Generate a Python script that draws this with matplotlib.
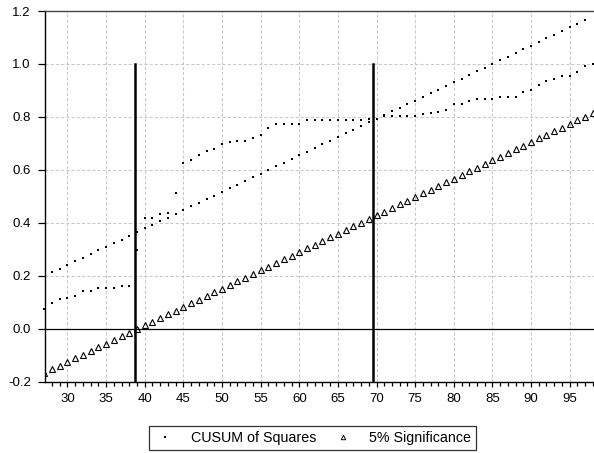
import matplotlib
matplotlib.use("Agg")
import matplotlib.pyplot as plt
from matplotlib.lines import Line2D
from matplotlib.ticker import MultipleLocator, FormatStrFormatter

plt.rcParams['font.family'] = ['Liberation Sans', 'DejaVu Sans']
plt.rcParams['axes.unicode_minus'] = False

# ---- data ----
obs_cusum = list(range(27, 99))
cusum_sq = [0.076, 0.097, 0.112, 0.117, 0.123, 0.143, 0.143, 0.153, 0.153, 0.153,
            0.161, 0.162, 0.297, 0.419, 0.419, 0.434, 0.438, 0.511, 0.626, 0.639,
            0.657, 0.670, 0.679, 0.699, 0.705, 0.708, 0.708, 0.719, 0.733, 0.758,
            0.772, 0.772, 0.772, 0.775, 0.788, 0.788, 0.788, 0.790, 0.790, 0.790,
            0.790, 0.790, 0.793, 0.793, 0.802, 0.804, 0.804, 0.804, 0.804, 0.810,
            0.814, 0.819, 0.825, 0.849, 0.849, 0.861, 0.869, 0.869, 0.869, 0.874,
            0.876, 0.877, 0.896, 0.902, 0.919, 0.937, 0.942, 0.953, 0.956, 0.968,
            0.992, 1.000]

obs_upper = list(range(28, 98))
upper_bound = [0.213, 0.227, 0.241, 0.254, 0.268, 0.282, 0.296, 0.310, 0.323, 0.337,
               0.351, 0.365, 0.379, 0.393, 0.406, 0.420, 0.434, 0.448, 0.462, 0.475,
               0.489, 0.503, 0.517, 0.531, 0.544, 0.558, 0.572, 0.586, 0.600, 0.613,
               0.627, 0.641, 0.655, 0.669, 0.683, 0.696, 0.710, 0.724, 0.738, 0.752,
               0.765, 0.779, 0.793, 0.807, 0.821, 0.834, 0.848, 0.862, 0.876, 0.890,
               0.903, 0.917, 0.931, 0.945, 0.959, 0.972, 0.986, 1.000, 1.014, 1.028,
               1.041, 1.055, 1.069, 1.083, 1.097, 1.110, 1.124, 1.138, 1.152, 1.166]

obs_lower = list(range(27, 99))
lower_bound = [-0.167, -0.153, -0.139, -0.125, -0.112, -0.098, -0.084, -0.070, -0.056, -0.042,
               -0.029, -0.015, -0.001, 0.013, 0.027, 0.041, 0.054, 0.068, 0.082, 0.096,
               0.110, 0.124, 0.137, 0.151, 0.165, 0.179, 0.193, 0.207, 0.221, 0.234,
               0.248, 0.262, 0.276, 0.290, 0.304, 0.317, 0.331, 0.345, 0.359, 0.373,
               0.387, 0.400, 0.414, 0.428, 0.442, 0.456, 0.470, 0.483, 0.497, 0.511,
               0.525, 0.539, 0.553, 0.566, 0.580, 0.594, 0.608, 0.622, 0.636, 0.649,
               0.663, 0.677, 0.691, 0.705, 0.719, 0.732, 0.746, 0.760, 0.774, 0.788,
               0.801, 0.815]

break_points = [38.75, 69.5]
x_ticks = [30, 35, 40, 45, 50, 55, 60, 65, 70, 75, 80, 85, 90, 95]
legend_labels = ["CUSUM of Squares", "5% Significance"]

# ---- figure ----
fig = plt.figure(figsize=(5.94, 4.53), dpi=100)
ax = fig.add_axes([0.0759, 0.1574, 0.9241, 0.8183])
ax.set_xlim(27.1, 98.15)
ax.set_ylim(-0.2, 1.2)

grid_kw = dict(color='#c8c8c8', linestyle=(0, (3, 2)), linewidth=0.75, zorder=0)
for t in x_ticks:
    ax.axvline(t, **grid_kw)
for t in [0.2, 0.4, 0.6, 0.8, 1.0]:
    ax.axhline(t, **grid_kw)

ax.axhline(0.0, color='black', linewidth=0.9, zorder=1)
for b in break_points:
    ax.plot([b, b], [-0.2, 1.0], color='black', linewidth=1.8, zorder=2)

ax.plot(obs_upper, upper_bound, linestyle='none', marker='s', markersize=2.1,
        color='black', markeredgewidth=0, zorder=3, clip_on=False)
ax.plot(obs_cusum, cusum_sq, linestyle='none', marker='s', markersize=2.1,
        color='black', markeredgewidth=0, zorder=3, clip_on=False)
ax.plot(obs_lower, lower_bound, linestyle='none', marker='^', markersize=5.0,
        markerfacecolor='none', markeredgecolor='black', markeredgewidth=0.8,
        zorder=3)

ax.xaxis.set_major_locator(plt.FixedLocator(x_ticks))
ax.xaxis.set_minor_locator(MultipleLocator(1))
ax.yaxis.set_major_locator(MultipleLocator(0.2))
ax.yaxis.set_major_formatter(FormatStrFormatter('%.1f'))
ax.tick_params(axis='x', which='major', direction='out', length=3.8, width=0.9,
               pad=4.5, labelsize=9.5, color='black')
ax.tick_params(axis='x', which='minor', direction='out', length=3.0, width=0.9,
               color='black')
ax.tick_params(axis='y', which='major', direction='out', length=4.8, width=0.9,
               pad=5.5, labelsize=9.5, color='black')

for s in ['left', 'bottom']:
    ax.spines[s].set_color('black')
    ax.spines[s].set_linewidth(1.0)
ax.spines['top'].set_color('#444444')
ax.spines['top'].set_linewidth(1.0)
ax.spines['right'].set_visible(False)

handles = [
    Line2D([], [], linestyle='none', marker='s', markersize=1.8, color='black',
           markeredgewidth=0),
    Line2D([], [], linestyle='none', marker='^', markersize=3.2,
           markerfacecolor='none', markeredgecolor='black', markeredgewidth=0.7),
]
leg = fig.legend(handles, legend_labels, loc='center', bbox_to_anchor=(0.526, 0.034),
                 ncol=2, frameon=True, fancybox=False, edgecolor='black',
                 fontsize=10.3, handlelength=1.6, handletextpad=1.0,
                 columnspacing=1.1, borderpad=0.35, borderaxespad=0)
leg.get_frame().set_linewidth(0.9)

fig.savefig('out.png', dpi=100)
